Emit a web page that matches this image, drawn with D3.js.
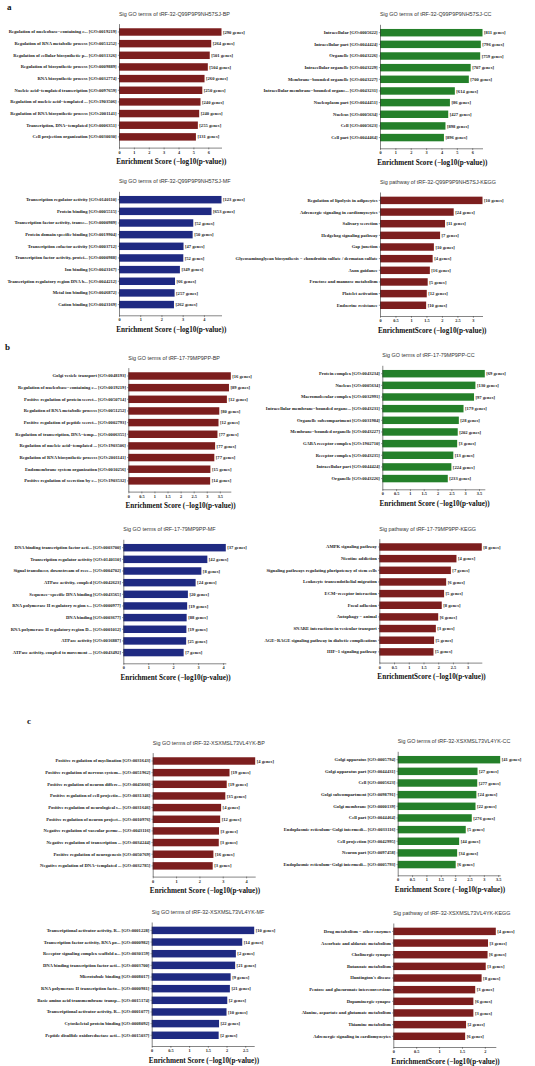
<!DOCTYPE html>
<html><head><meta charset="utf-8">
<script src="https://cdn.jsdelivr.net/npm/d3@7/dist/d3.min.js"></script>
<style>
body{margin:0;background:#fff;}
svg{display:block;}
</style>
</head><body>
<svg id="chart" width="535" height="1066"></svg>
<script>
// ---------------- DATA ----------------
// Panel a
const aBP_terms = ["Regulation of nucleobase−containing c... [GO:0019219]","Regulation of RNA metabolic process [GO:0051252]","Regulation of cellular biosynthetic p... [GO:0031326]","Regulation of biosynthetic process [GO:0009889]","RNA biosynthetic process [GO:0032774]","Nucleic acid−templated transcription [GO:0097659]","Regulation of nucleic acid−templated ... [GO:1903506]","Regulation of RNA biosynthetic process [GO:2001141]","Transcription, DNA−templated [GO:0006351]","Cell projection organization [GO:0030030]"];
const aBP_values = [6.89,6.2,6.1,5.97,5.75,5.6,5.48,5.39,5.3,5.17];
const aBP_genes = ["[290 genes]","[264 genes]","[501 genes]","[504 genes]","[260 genes]","[250 genes]","[240 genes]","[240 genes]","[255 genes]","[131 genes]"];
const aBP_ticks = [0,1,2,3,4,5,6];

const aCC_terms = ["Intracellular [GO:0005622]","Intracellular part [GO:0044424]","Organelle [GO:0043226]","Intracellular organelle [GO:0043229]","Membrane−bounded organelle [GO:0043227]","Intracellular membrane−bounded organe... [GO:0043231]","Nucleoplasm part [GO:0044451]","Nucleus [GO:0005634]","Cell [GO:0005623]","Cell part [GO:0044464]"];
const aCC_values = [6.67,6.56,6.52,5.9,5.78,4.87,4.55,4.44,4.26,4.16];
const aCC_genes = ["[811 genes]","[796 genes]","[759 genes]","[707 genes]","[700 genes]","[614 genes]","[86 genes]","[427 genes]","[898 genes]","[896 genes]"];
const aCC_ticks = [0,1,2,3,4,5,6];

const aMF_terms = ["Transcription regulator activity [GO:0140110]","Protein binding [GO:0005515]","Transcription factor activity, transc... [GO:0000989]","Protein domain specific binding [GO:0019904]","Transcription cofactor activity [GO:0003712]","Transcription factor activity, protei... [GO:0000988]","Ion binding [GO:0043167]","Transcription regulatory region DNA b... [GO:0044212]","Metal ion binding [GO:0046872]","Cation binding [GO:0043169]"];
const aMF_values = [4.83,4.36,3.5,3.47,3.04,3.03,2.87,2.64,2.62,2.59];
const aMF_genes = ["[123 genes]","[653 genes]","[52 genes]","[50 genes]","[47 genes]","[52 genes]","[349 genes]","[66 genes]","[257 genes]","[262 genes]"];
const aMF_ticks = [0,1,2,3,4];

const aKEGG_terms = ["Regulation of lipolysis in adipocytes","Adrenergic signaling in cardiomyocytes","Salivary secretion","Hedgehog signaling pathway","Gap junction","Glycosaminoglycan biosynthesis − chondroitin sulfate / dermatan sulfate","Axon guidance","Fructose and mannose metabolism","Platelet activation","Endocrine resistance"];
const aKEGG_values = [3.31,2.38,2.10,1.94,1.74,1.70,1.61,1.54,1.51,1.49];
const aKEGG_genes = ["[10 genes]","[24 genes]","[11 genes]","[7 genes]","[10 genes]","[4 genes]","[16 genes]","[5 genes]","[12 genes]","[10 genes]"];
const aKEGG_ticks = [0,0.5,1,1.5,2,2.5,3];

// Panel b
const bBP_terms = ["Golgi vesicle transport [GO:0048193]","Regulation of nucleobase−containing c... [GO:0019219]","Positive regulation of protein secret... [GO:0050714]","Regulation of RNA metabolic process [GO:0051252]","Positive regulation of peptide secret... [GO:0002793]","Regulation of transcription, DNA−temp... [GO:0006355]","Regulation of nucleic acid−templated ... [GO:1903506]","Regulation of RNA biosynthetic process [GO:2001141]","Endomembrane system organization [GO:0010256]","Positive regulation of secretion by c... [GO:1903532]"];
const bBP_values = [3.92,3.85,3.77,3.48,3.45,3.41,3.32,3.29,3.14,3.13];
const bBP_genes = ["[16 genes]","[89 genes]","[12 genes]","[80 genes]","[12 genes]","[77 genes]","[77 genes]","[77 genes]","[15 genes]","[14 genes]"];
const bBP_ticks = [0,0.5,1,1.5,2,2.5,3,3.5];

const bCC_terms = ["Protein complex [GO:0043234]","Nucleus [GO:0005634]","Macromolecular complex [GO:0032991]","Intracellular membrane−bounded organe... [GO:0043231]","Organelle subcompartment [GO:0031984]","Membrane−bounded organelle [GO:0043227]","GABA receptor complex [GO:1902710]","Receptor complex [GO:0043235]","Intracellular part [GO:0044424]","Organelle [GO:0043226]"];
const bCC_values = [3.71,3.37,3.32,2.94,2.77,2.73,2.71,2.57,2.5,2.37];
const bCC_genes = ["[69 genes]","[130 genes]","[97 genes]","[179 genes]","[28 genes]","[202 genes]","[3 genes]","[13 genes]","[224 genes]","[233 genes]"];
const bCC_ticks = [0,0.5,1,1.5,2,2.5,3,3.5];

const bMF_terms = ["DNA binding transcription factor acti... [GO:0003700]","Transcription regulator activity [GO:0140110]","Signal transducer, downstream of rece... [GO:0004702]","ATPase activity, coupled [GO:0042623]","Sequence−specific DNA binding [GO:0043565]","RNA polymerase II regulatory region s... [GO:0000977]","DNA binding [GO:0003677]","RNA polymerase II regulatory region D... [GO:0001012]","ATPase activity [GO:0016887]","ATPase activity, coupled to movement ... [GO:0043492]"];
const bMF_values = [4.11,3.37,3.13,2.9,2.59,2.56,2.54,2.53,2.52,2.42];
const bMF_genes = ["[37 genes]","[42 genes]","[8 genes]","[24 genes]","[20 genes]","[19 genes]","[88 genes]","[19 genes]","[25 genes]","[7 genes]"];
const bMF_ticks = [0,1,2,3,4];

const bKEGG_terms = ["AMPK signaling pathway","Nicotine addiction","Signaling pathways regulating pluripotency of stem cells","Leukocyte transendothelial migration","ECM−receptor interaction","Focal adhesion","Autophagy − animal","SNARE interactions in vesicular transport","AGE−RAGE signaling pathway in diabetic complications","HIF−1 signaling pathway"];
const bKEGG_values = [3.48,2.62,2.43,2.27,2.2,2.12,2.0,1.92,1.86,1.84];
const bKEGG_genes = ["[8 genes]","[4 genes]","[7 genes]","[6 genes]","[5 genes]","[8 genes]","[6 genes]","[3 genes]","[5 genes]","[5 genes]"];
const bKEGG_ticks = [0,0.5,1,1.5,2,2.5,3];

// Panel c
const cBP_terms = ["Positive regulation of myelination [GO:0031643]","Positive regulation of nervous system... [GO:0051962]","Positive regulation of neuron differe... [GO:0045666]","Positive regulation of cell projectio... [GO:0031346]","Positive regulation of neurological s... [GO:0031646]","Positive regulation of neuron project... [GO:0010976]","Negative regulation of vascular perme... [GO:0043116]","Negative regulation of transcription ... [GO:0034244]","Positive regulation of neurogenesis [GO:0050769]","Negative regulation of DNA−templated ... [GO:0032785]"];
const cBP_values = [4.39,3.29,3.17,3.11,2.93,2.89,2.84,2.83,2.6,2.57];
const cBP_genes = ["[4 genes]","[19 genes]","[19 genes]","[35 genes]","[4 genes]","[12 genes]","[3 genes]","[3 genes]","[16 genes]","[3 genes]"];
const cBP_ticks = [0,1,2,3,4];

const cCC_terms = ["Golgi apparatus [GO:0005794]","Golgi apparatus part [GO:0044431]","Cell [GO:0005623]","Golgi subcompartment [GO:0098791]","Golgi membrane [GO:0000139]","Cell part [GO:0044464]","Endoplasmic reticulum−Golgi intermedi... [GO:0033116]","Cell projection [GO:0042995]","Neuron part [GO:0097458]","Endoplasmic reticulum−Golgi intermedi... [GO:0005793]"];
const cCC_values = [3.57,2.78,2.77,2.74,2.71,2.58,2.37,2.14,2.07,2.02];
const cCC_genes = ["[41 genes]","[27 genes]","[277 genes]","[24 genes]","[22 genes]","[276 genes]","[5 genes]","[44 genes]","[34 genes]","[6 genes]"];
const cCC_ticks = [0,0.5,1,1.5,2,2.5,3,3.5];

const cMF_terms = ["Transcriptional activator activity, R... [GO:0001228]","Transcription factor activity, RNA po... [GO:0000982]","Receptor signaling complex scaffold a... [GO:0030159]","DNA binding transcription factor acti... [GO:0003700]","Microtubule binding [GO:0008017]","RNA polymerase II transcription facto... [GO:0000981]","Basic amino acid transmembrane transp... [GO:0015174]","Transcriptional activator activity, R... [GO:0001077]","Cytoskeletal protein binding [GO:0008092]","Peptide disulfide oxidoreductase acti... [GO:0015037]"];
const cMF_values = [2.74,2.42,2.25,2.23,2.11,2.09,2.02,2.0,1.8,1.79];
const cMF_genes = ["[10 genes]","[14 genes]","[2 genes]","[21 genes]","[9 genes]","[21 genes]","[2 genes]","[10 genes]","[22 genes]","[2 genes]"];
const cMF_ticks = [0,0.5,1,1.5,2,2.5];

const cKEGG_terms = ["Drug metabolism − other enzymes","Ascorbate and aldarate metabolism","Cholinergic synapse","Butanoate metabolism","Huntington's disease","Pentose and glucuronate interconversions","Dopaminergic synapse","Alanine, aspartate and glutamate metabolism","Thiamine metabolism","Adrenergic signaling in cardiomyocytes"];
const cKEGG_values = [2.24,2.07,2.06,2.02,1.93,1.79,1.75,1.75,1.59,1.57];
const cKEGG_genes = ["[4 genes]","[3 genes]","[6 genes]","[3 genes]","[8 genes]","[3 genes]","[6 genes]","[3 genes]","[2 genes]","[6 genes]"];
const cKEGG_ticks = [0,0.5,1,1.5,2];

const titles = {
  aBP:"Sig GO terms of tRF-32-Q99P9P9NH57SJ-BP", aCC:"Sig GO terms of tRF-32-Q99P9P9NH57SJ-CC",
  aMF:"Sig GO terms of tRF-32-Q99P9P9NH57SJ-MF", aKEGG:"Sig pathway of tRF-32-Q99P9P9NH57SJ-KEGG",
  bBP:"Sig GO terms of tRF-17-79MP9PP-BP", bCC:"Sig GO terms of tRF-17-79MP9PP-CC",
  bMF:"Sig GO terms of tRF-17-79MP9PP-MF", bKEGG:"Sig pathway of tRF-17-79MP9PP-KEGG",
  cBP:"Sig GO terms of tRF-32-XSXMSL73VL4YK-BP", cCC:"Sig GO terms of tRF-32-XSXMSL73VL4YK-CC",
  cMF:"Sig GO terms of tRF-32-XSXMSL73VL4YK-MF", cKEGG:"Sig pathway of tRF-32-XSXMSL73VL4YK-KEGG"
};
const xTitleGO = "Enrichment Score (−log10(p-value))";
const xTitleKEGG = "EnrichmentScore (−log10(p-value))";

// ---------------- LAYOUT ----------------
const COLORS = {BP:"#7c1e1e", KEGG:"#7c1e1e", CC:"#24802a", MF:"#1f2a82"};
const layout = [
  {key:"aBP", kind:"BP", x0:119, top:23.6, d:[aBP_terms,aBP_values,aBP_genes,aBP_ticks]},
  {key:"aCC", kind:"CC", x0:380, top:24.3, d:[aCC_terms,aCC_values,aCC_genes,aCC_ticks]},
  {key:"aMF", kind:"MF", x0:119, top:191.3, d:[aMF_terms,aMF_values,aMF_genes,aMF_ticks]},
  {key:"aKEGG", kind:"KEGG", x0:380, top:192, d:[aKEGG_terms,aKEGG_values,aKEGG_genes,aKEGG_ticks]},
  {key:"bBP", kind:"BP", x0:128.3, top:367.6, d:[bBP_terms,bBP_values,bBP_genes,bBP_ticks]},
  {key:"bCC", kind:"CC", x0:382.3, top:365.3, d:[bCC_terms,bCC_values,bCC_genes,bCC_ticks]},
  {key:"bMF", kind:"MF", x0:123.3, top:539.3, d:[bMF_terms,bMF_values,bMF_genes,bMF_ticks]},
  {key:"bKEGG", kind:"KEGG", x0:379.3, top:538.6, d:[bKEGG_terms,bKEGG_values,bKEGG_genes,bKEGG_ticks]},
  {key:"cBP", kind:"BP", x0:152.7, top:752.6, d:[cBP_terms,cBP_values,cBP_genes,cBP_ticks]},
  {key:"cCC", kind:"CC", x0:397.7, top:751.3, d:[cCC_terms,cCC_values,cCC_genes,cCC_ticks]},
  {key:"cMF", kind:"MF", x0:151.7, top:922, d:[cMF_terms,cMF_values,cMF_genes,cMF_ticks]},
  {key:"cKEGG", kind:"KEGG", x0:393.3, top:923, d:[cKEGG_terms,cKEGG_values,cKEGG_genes,cKEGG_ticks]}
];
const PW = 102.5, PH = 124;
const SERIF = "'Liberation Serif','Times New Roman',serif";
const SANS = "'Liberation Sans',Arial,sans-serif";
const LABEL_FS = 4.6;

const svg = d3.select("#chart");

function drawPanel(p){
  const [terms, values, genes, ticks] = p.d;
  const g = svg.append("g");
  const x = d3.scaleLinear().domain([0, d3.max(values)]).range([p.x0, p.x0 + PW]);
  const y = d3.scaleBand().domain(terms).range([p.top, p.top + PH])
    .paddingInner(0.36).paddingOuter(0.5).align(0.4);
  const bottom = p.top + PH;

  g.selectAll("rect.bar").data(terms).join("rect")
    .attr("class","bar")
    .attr("x", x(0))
    .attr("y", d => y(d))
    .attr("width", (d,i) => x(values[i]) - x(0))
    .attr("height", y.bandwidth())
    .attr("fill", COLORS[p.kind]);

  g.selectAll("text.gene").data(terms).join("text")
    .attr("class","gene")
    .attr("x", (d,i) => x(values[i]) + 1.5)
    .attr("y", d => y(d) + y.bandwidth()/2)
    .attr("dy","0.35em")
    .attr("font-family", SERIF).attr("font-weight","bold")
    .attr("font-size", LABEL_FS).attr("fill","#222")
    .text((d,i) => genes[i]);

  const ax = g.append("g").attr("transform", `translate(${p.x0},0)`)
    .call(d3.axisLeft(y).tickSize(1.2).tickPadding(1.2).tickSizeOuter(0));
  ax.select(".domain").attr("stroke","#333").attr("stroke-width",0.6);
  ax.selectAll(".tick line").attr("stroke","#333").attr("stroke-width",0.5);
  ax.selectAll(".tick text").attr("font-family",SERIF).attr("font-weight","bold")
    .attr("font-size",LABEL_FS).attr("fill","#222");

  const bx = g.append("g").attr("transform", `translate(0,${bottom})`)
    .call(d3.axisBottom(x).tickValues(ticks).tickFormat(d3.format("~g"))
      .tickSize(1.8).tickPadding(1.2).tickSizeOuter(0));
  bx.select(".domain").attr("stroke","#333").attr("stroke-width",0.6);
  bx.selectAll(".tick line").attr("stroke","#333").attr("stroke-width",0.5);
  bx.selectAll(".tick text").attr("font-family",SERIF).attr("font-weight","bold")
    .attr("font-size",4.3).attr("fill","#222");

  g.append("text")
    .attr("x", p.x0 + PW/2 + 1).attr("y", bottom + 16.5)
    .attr("text-anchor","middle")
    .attr("font-family",SERIF).attr("font-weight","bold")
    .attr("font-size",7.2).attr("fill","#111")
    .text(p.kind === "KEGG" ? xTitleKEGG : xTitleGO);

  g.append("text")
    .attr("x", p.x0).attr("y", p.top - 8)
    .attr("font-family",SANS).attr("font-size",5.4).attr("fill","#333")
    .text(titles[p.key]);
}

layout.forEach(drawPanel);

const letters = [{t:"a",x:7,y:10},{t:"b",x:5,y:350},{t:"c",x:27,y:724}];
svg.selectAll("text.letter").data(letters).join("text")
  .attr("class","letter")
  .attr("x", d=>d.x).attr("y", d=>d.y)
  .attr("font-family",SERIF).attr("font-weight","bold").attr("font-size",9).attr("fill","#111")
  .text(d=>d.t);
</script>
</body></html>
